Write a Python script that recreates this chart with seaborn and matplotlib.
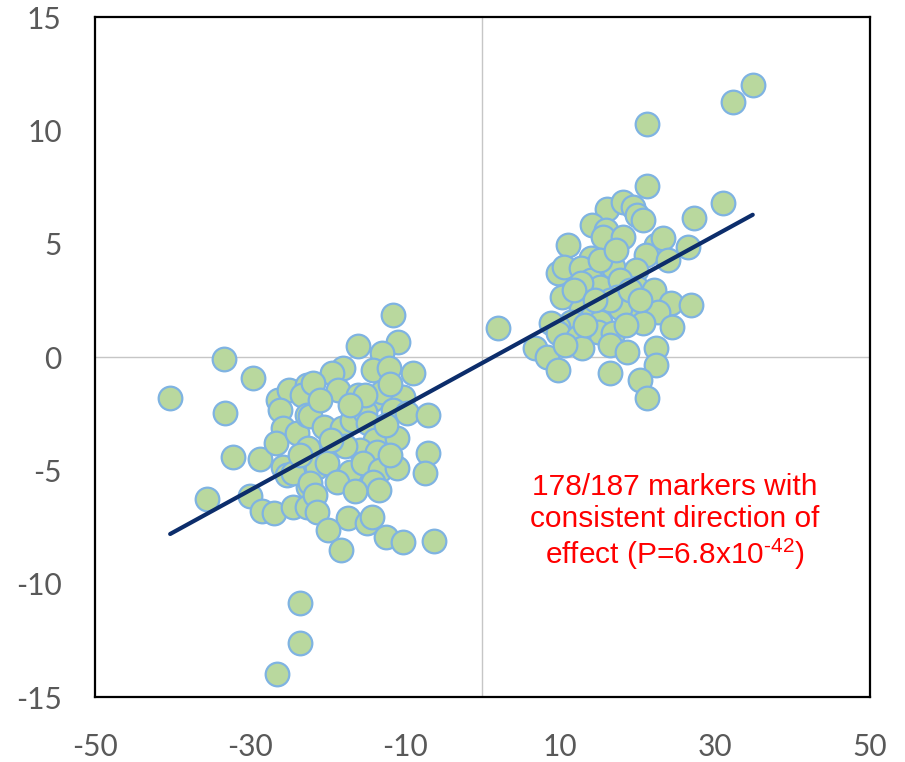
# -*- coding: utf-8 -*-
"""
Scatter of marker effects with linear trend line
"""
import numpy as np
import pandas as pd
import seaborn as sns
import matplotlib
matplotlib.use('Agg')
import matplotlib.pyplot as plt

# effect estimates, left cluster (negative) and right cluster (positive)
x_neg = [-40.3, -33.3, -33.2, -29.6, -32.2, -28.7, -35.5, -30.0, -28.4, -26.9,
         -24.5, -26.4, -24.9, -26.1, -25.7, -26.7, -23.9, -25.7, -25.2, -22.6,
         -23.3, -22.6, -22.5, -22.5, -22.6, -26.5, -23.5, -23.5, -11.5, -16.0,
         -10.9, -13.0, -18.0, -19.4, -14.1, -12.0, -9.0, -21.8, -18.6, -16.1,
         -14.2, -12.9, -10.3, -11.6, -9.7, -7.0, -22.2, -20.5, -18.1, -16.8,
         -15.1, -14.7, -13.8, -11.0, -15.8, -13.6, -7.0, -21.3, -20.0, -17.1,
         -15.4, -13.2, -11.0, -7.4, -24.4, -18.7, -22.2, -14.1, -13.4, -21.6,
         -21.3, -17.3, -14.9, -14.2, -19.9, -12.5, -10.2, -6.3, -18.3,
         -15.1, -17.1, -12.5, -17.7, -11.9, -19.6, -23.5, -16.4, -11.9, -20.9]
y_neg = [-1.81, -0.09, -2.47, -0.93, -4.41, -4.50, -6.26, -6.13, -6.79, -6.88,
         -6.62, -1.90, -1.46, -2.34, -3.13, -3.79, -3.35, -4.85, -5.21, -1.24,
         -1.68, -2.56, -4.01, -5.73, -6.62, -14.0, -10.85, -12.6, 1.85, 0.49,
         0.66, 0.18, -0.49, -0.71, -0.57, -0.49, -0.71, -1.15, -1.46, -1.68,
         -1.90, -1.54, -1.76, -2.34, -2.47, -2.56, -2.60, -3.09, -3.13, -2.78,
         -2.43, -2.91, -3.66, -3.57, -4.10, -4.19, -4.23, -4.85, -4.68, -5.07,
         -4.68, -4.98, -4.90, -5.12, -5.12, -5.51, -5.56, -5.51, -5.87, -6.09,
         -6.84, -7.10, -7.32, -7.06, -7.63, -7.94, -8.16, -8.12, -8.51,
         -1.68, -2.10, -3.00, -3.90, -4.30, -3.66, -4.30, -5.90, -1.20, -1.90]

x_pos = [2.07, 21.3, 31.0, 27.3, 16.1, 18.1, 19.4, 20.0, 20.7, 14.2,
         15.9, 15.6, 18.2, 11.0, 22.4, 23.3, 26.5, 21.1, 23.9, 9.7,
         10.5, 14.0, 12.7, 16.8, 19.8, 14.0, 15.2, 12.7, 17.8, 10.3,
         17.4, 20.0, 22.4, 22.1, 24.3, 26.9, 22.7, 18.9, 17.8, 12.7,
         14.2, 15.2, 11.4, 9.7, 20.7, 24.5, 8.8, 9.8, 14.9, 16.8,
         12.3, 6.8, 8.4, 12.9, 16.5, 18.7, 22.4, 9.8, 16.5, 22.4,
         20.4, 21.3, 34.9, 32.4, 21.3,
         15.2, 11.8, 16.5, 14.6, 18.5, 13.3, 17.2, 19.1, 10.7, 20.4]
y_pos = [1.28, 7.54, 6.79, 6.13, 6.53, 6.84, 6.62, 6.26, 6.04, 5.82,
         5.60, 5.29, 5.29, 4.94, 4.94, 5.25, 4.85, 4.50, 4.28, 3.71,
         3.97, 4.37, 3.93, 3.97, 3.84, 3.40, 3.09, 3.26, 3.40, 2.65,
         2.65, 3.04, 2.60, 2.96, 2.38, 2.29, 1.99, 2.21, 2.16, 2.07,
         1.76, 1.54, 1.54, 1.32, 1.50, 1.32, 1.50, 1.06, 1.10, 1.06,
         0.88, 0.40, 0.00, 0.40, 0.53, 0.22, 0.40, -0.57, -0.71, -0.35,
         -1.01, -1.81, 12.0, 11.25, 10.28,
         4.28, 2.96, 2.51, 2.51, 1.41, 1.41, 4.72, 2.96, 0.53, 2.51]

x_ticks = [-50, -30, -10, 10, 30, 50]
y_ticks = [-15, -10, -5, 0, 5, 10, 15]
note = '178/187 markers with\nconsistent direction of\neffect (P=6.8x10$\\mathregular{^{\u2010 42}}$)'

df = pd.DataFrame({'x': x_neg + x_pos, 'y': y_neg + y_pos})

sns.set_style('white')
plt.rcParams['font.family'] = ['Lato', 'DejaVu Sans']
plt.rcParams['axes.unicode_minus'] = False

fig = plt.figure(figsize=(9.05, 7.62), dpi=100)
ax = fig.add_axes([0.105, 0.0853, 0.856, 0.892])

ax.axhline(0, color='#c6c6c6', lw=1.0, zorder=0)
ax.axvline(0, color='#c6c6c6', lw=1.0, zorder=0)

sns.regplot(data=df, x='x', y='y', ax=ax, ci=None, truncate=True,
            scatter_kws={'s': 290, 'color': '#b9d89e', 'edgecolor': '#7fb3e2',
                         'linewidths': 1.6, 'alpha': 1, 'zorder': 2},
            line_kws={'color': '#0c2d6b', 'lw': 3.0, 'zorder': 3})

ax.set_xlim(-50, 50)
ax.set_ylim(-15, 15)
ax.set_xticks(x_ticks)
ax.set_yticks(y_ticks)
ax.set_xlabel('')
ax.set_ylabel('')
ax.tick_params(axis='both', length=0, labelsize=21.5, colors='#595959')
ax.tick_params(axis='x', pad=26)
ax.tick_params(axis='y', pad=24)
for s in ax.spines.values():
    s.set_color('black')
    s.set_linewidth(1.6)
    s.set_visible(True)

ax.text(24.8, -7.3, note, color='#ff0000', fontsize=21.5, ha='center', va='center',
        family=['Liberation Sans', 'DejaVu Sans'], linespacing=1.15, zorder=4)

fig.savefig('out.png', dpi=100)
